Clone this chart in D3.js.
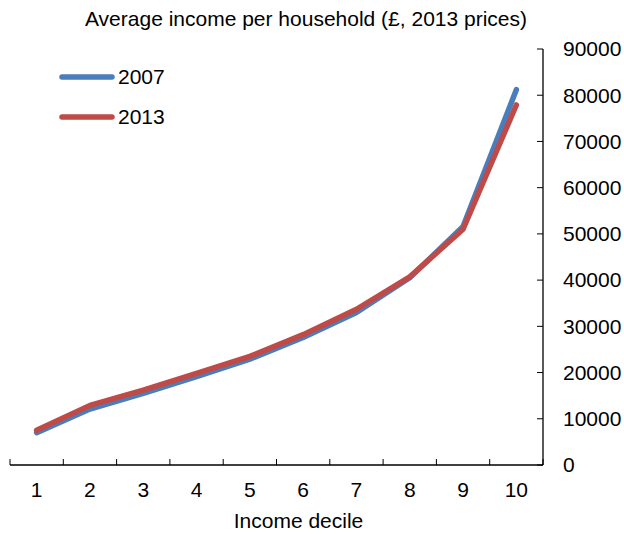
<!DOCTYPE html>
<html>
<head>
<meta charset="utf-8">
<script src="https://cdn.jsdelivr.net/npm/d3@7"></script>
<style>
  html, body { margin: 0; padding: 0; background: #fff; }
  svg text { font-family: "Liberation Sans", Arial, sans-serif; fill: #000; }
</style>
</head>
<body>
<svg id="chart" width="624" height="534"></svg>
<script>
const deciles = ["1","2","3","4","5","6","7","8","9","10"];
const values2007 = [7000, 12100, 15500, 19100, 22900, 27600, 33000, 40500, 51600, 81200];
const values2013 = [7500, 12900, 16200, 19800, 23500, 28200, 33700, 40700, 51000, 77900];
const seriesNames = ["2007", "2013"];
const seriesColors = ["#4A7EBB", "#BE4B48"];
const yTicks = [0, 10000, 20000, 30000, 40000, 50000, 60000, 70000, 80000, 90000];
const titleText = "Average income per household (£, 2013 prices)";
const xTitle = "Income decile";

const svg = d3.select("#chart");
const mLeft = 10, mRight = 543, mTop = 49, mBottom = 465;
const fs = "21px";

const x = d3.scaleBand().domain(deciles).range([mLeft, mRight]).padding(0);
const y = d3.scaleLinear().domain([0, 90000]).range([mBottom, mTop]);

// title
svg.append("text").attr("x", 306).attr("y", 26).attr("text-anchor", "middle")
  .style("font-size", fs).text(titleText);

// x axis
const xAxis = svg.append("g").attr("transform", `translate(0,${mBottom})`);
xAxis.append("line").attr("x1", mLeft).attr("x2", mRight).attr("y1", 0).attr("y2", 0)
  .attr("stroke", "#000").attr("stroke-width", 1.3);
const bounds = deciles.map(d => x(d)).concat([mRight]);
xAxis.selectAll("line.tick").data(bounds).enter().append("line").attr("class", "tick")
  .attr("x1", d => d).attr("x2", d => d).attr("y1", 0).attr("y2", -6)
  .attr("stroke", "#000").attr("stroke-width", 1);
xAxis.selectAll("text").data(deciles).enter().append("text")
  .attr("x", d => x(d) + x.bandwidth() / 2).attr("y", 32)
  .attr("text-anchor", "middle").style("font-size", fs).text(d => d);
svg.append("text").attr("x", 298.5).attr("y", 528).attr("text-anchor", "middle")
  .style("font-size", fs).text(xTitle);

// y axis (right)
const yAxis = svg.append("g").attr("transform", `translate(${mRight},0)`);
yAxis.append("line").attr("x1", 0).attr("x2", 0).attr("y1", y(90000)).attr("y2", mBottom)
  .attr("stroke", "#000").attr("stroke-width", 1.3);
yAxis.selectAll("line.tick").data(yTicks).enter().append("line").attr("class", "tick")
  .attr("x1", -6).attr("x2", 0).attr("y1", d => y(d)).attr("y2", d => y(d))
  .attr("stroke", "#000").attr("stroke-width", 1);
yAxis.selectAll("text").data(yTicks).enter().append("text")
  .attr("x", 20).attr("y", d => y(d)).attr("dy", "0.35em")
  .style("font-size", fs).text(d => d);

// lines
const line = d3.line().x((d, i) => x(deciles[i]) + x.bandwidth() / 2).y(d => y(d));
[values2007, values2013].forEach((vals, i) => {
  svg.append("path").datum(vals).attr("d", line).attr("fill", "none")
    .attr("stroke", seriesColors[i]).attr("stroke-width", 5.5)
    .attr("stroke-linecap", "round").attr("stroke-linejoin", "round");
});

// legend
seriesNames.forEach((name, i) => {
  const ly = 77 + i * 40;
  svg.append("line").attr("x1", 62).attr("x2", 112).attr("y1", ly).attr("y2", ly)
    .attr("stroke", seriesColors[i]).attr("stroke-width", 5.5).attr("stroke-linecap", "round");
  svg.append("text").attr("x", 118).attr("y", ly).attr("dy", "0.35em")
    .style("font-size", fs).text(name);
});
</script>
</body>
</html>
